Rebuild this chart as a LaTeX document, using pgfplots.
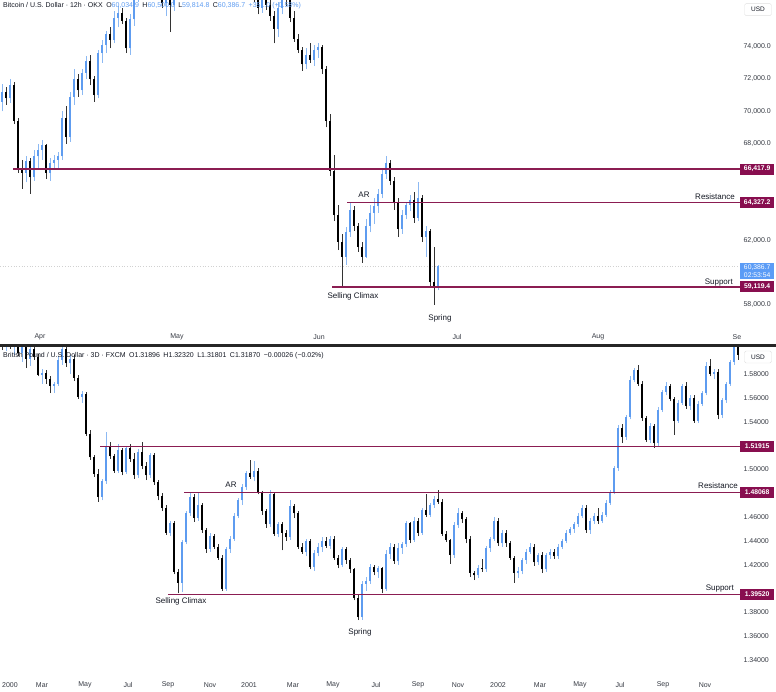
\documentclass[border=0pt]{standalone}
\usepackage{pgfplots}
\pgfplotsset{compat=1.18}
\usepackage{pgfplotstable}
\usepackage{fontspec}
\setmainfont{Liberation Sans}
\definecolor{upc}{HTML}{5E9CF0}
\definecolor{upw}{HTML}{8CB9F3}
\definecolor{dnc}{HTML}{000000}
\definecolor{dnw}{HTML}{333333}
\definecolor{lvl}{HTML}{8B1D52}
\definecolor{tagc}{HTML}{880E4F}
\definecolor{txt}{HTML}{131722}
\definecolor{curc}{HTML}{5B9CF6}

\pgfplotstableread{
x o h l c
2 70600 71700 70000 71200
6 71200 71500 70400 70800
10 70800 72000 70500 71600
14 71600 71800 69200 69400
18 69400 69600 66200 66500
22 66500 67000 65200 66200
26 66200 67200 65600 66900
30 66900 67100 64900 65900
34 65900 67600 65700 67200
38 67200 68000 66500 67600
42 67600 68200 67000 67900
46 67900 68000 65800 66200
50 66200 67100 65700 66800
54 66800 67300 66400 67000
58 67000 67500 66500 67200
62 67200 70000 67000 69600
66 69600 70300 68000 68400
70 68400 71200 68100 70900
74 70900 72600 70400 72000
78 72000 72300 70900 71300
82 71300 72600 71000 72400
86 72400 73400 72000 73100
90 73100 73500 71600 72000
94 72000 72200 70600 71000
98 71000 73800 70800 73600
102 73600 74400 73000 74100
106 74100 75000 73600 74800
110 74800 75200 73900 74400
114 74400 76200 74200 75800
118 75800 76500 75200 76100
122 76100 76400 75400 75600
126 75600 75800 73600 73900
130 73900 76000 73500 75700
134 75700 77500 75300 77200
138 77200 78500 76800 78100
142 78100 79000 77600 78600
146 78600 79500 78000 79200
150 79200 79600 78300 78500
154 78500 79000 77800 78000
158 78000 78400 77100 77400
162 77400 77600 76400 76700
166 76700 77300 75900 77000
170 77000 77500 74900 76600
174 76600 77800 76200 77500
178 77500 78600 77200 78300
182 78300 79400 78000 79000
186 79000 80200 78700 79900
190 79900 80500 79100 79400
194 79400 80800 79200 80500
198 80500 81200 79800 80100
202 80100 80600 79000 79300
206 79300 80000 78600 79700
210 79700 80900 79500 80600
214 80600 81500 80200 81100
218 81100 81400 80000 80300
222 80300 80700 79400 79800
226 79800 80400 79200 80100
230 80100 80500 78900 79200
234 79200 79800 78400 78700
238 78700 79500 78300 79300
242 79300 79900 78600 78900
246 78900 79200 77800 78100
250 78100 78600 77400 77700
254 77700 78200 76800 77000
258 77000 77400 76000 76400
262 76400 77300 76100 77000
266 77000 77600 76300 76600
270 76600 77000 75600 75900
274 75900 76200 74200 75100
278 75100 76800 74600 76400
282 76400 77500 76000 77200
286 77200 77600 76500 76900
290 76900 77300 75500 75800
294 75800 76200 74300 74500
298 74500 74800 73600 73800
302 73800 74000 72500 72900
306 72900 73900 72600 73500
310 73500 74200 73000 73200
314 73200 74100 72800 73800
318 73800 74200 73300 74000
322 74000 74100 72300 72600
326 72600 72800 69000 69400
330 69400 69800 66000 66300
334 66300 67300 63200 63600
338 63600 64200 61400 61900
342 61900 62400 59100 61000
346 61000 62800 60500 62500
350 62500 64300 62200 63900
354 63900 64100 62600 62900
358 62900 63100 61300 61600
362 61600 61900 60600 61000
366 61000 63300 60900 62900
370 62900 64200 62500 63700
374 63700 64600 63000 64100
378 64100 65200 63700 64900
382 64900 66400 64600 66100
386 66100 67200 65800 66800
390 66800 67000 65400 65700
394 65700 65900 63900 64300
398 64300 64600 62200 62700
402 62700 63900 62400 63600
406 63600 64400 63300 64200
410 64200 64800 63800 64500
414 64500 65000 63100 63400
418 63400 65600 63200 64600
422 64600 64800 61900 62200
426 62200 62900 61000 62600
430 62600 62700 59100 59400
434 59400 61600 58000 59200
438 59200 60500 58900 60386.7
}\btc

\pgfplotstableread{
x o h l c
2 1.6080 1.6150 1.6000 1.6050
6 1.6050 1.6120 1.5990 1.6090
10 1.6090 1.6130 1.6010 1.6030
14 1.6030 1.6100 1.5960 1.6070
18 1.6070 1.6110 1.5950 1.5980
22 1.5980 1.6060 1.5900 1.6040
26 1.6040 1.6080 1.5850 1.5930
30 1.5930 1.6070 1.5870 1.6010
34 1.6010 1.6060 1.5920 1.5940
38 1.5940 1.5970 1.5780 1.5795
42 1.5795 1.5840 1.5720 1.5810
46 1.5810 1.5830 1.5720 1.5760
50 1.5760 1.5780 1.5640 1.5700
54 1.5700 1.5730 1.5640 1.5720
58 1.5720 1.5950 1.5700 1.5920
62 1.5920 1.6060 1.5880 1.6010
66 1.6010 1.6050 1.5860 1.5890
70 1.5890 1.5960 1.5800 1.5930
74 1.5930 1.5960 1.5740 1.5770
78 1.5770 1.5790 1.5590 1.5610
82 1.5610 1.5660 1.5560 1.5630
86 1.5630 1.5650 1.5280 1.5300
90 1.5300 1.5330 1.5080 1.5100
94 1.5100 1.5120 1.4940 1.4960
98 1.4960 1.5000 1.4730 1.4770
102 1.4770 1.4920 1.4740 1.4900
106 1.4900 1.5310 1.4880 1.5200
110 1.5200 1.5230 1.5090 1.5110
114 1.5110 1.5130 1.4970 1.4990
118 1.4990 1.5210 1.4970 1.5160
122 1.5160 1.5180 1.4950 1.4980
126 1.4980 1.5200 1.4960 1.5180
130 1.5180 1.5210 1.5060 1.5090
134 1.5090 1.5140 1.4920 1.4950
138 1.4950 1.5170 1.4930 1.5150
142 1.5150 1.5230 1.5000 1.5030
146 1.5030 1.5060 1.4910 1.4950
150 1.4950 1.5140 1.4930 1.5120
154 1.5120 1.5140 1.4870 1.4890
158 1.4890 1.4910 1.4740 1.4780
162 1.4780 1.4800 1.4650 1.4680
166 1.4680 1.4700 1.4450 1.4470
170 1.4470 1.4570 1.4440 1.4550
174 1.4550 1.4570 1.4120 1.4140
178 1.4140 1.4160 1.3960 1.4050
182 1.4050 1.4410 1.3970 1.4390
186 1.4390 1.4650 1.4370 1.4630
190 1.4630 1.4810 1.4610 1.4770
194 1.4770 1.4790 1.4560 1.4590
198 1.4590 1.4810 1.4570 1.4700
202 1.4700 1.4720 1.4470 1.4490
206 1.4490 1.4510 1.4300 1.4330
210 1.4330 1.4470 1.4310 1.4440
214 1.4440 1.4460 1.4330 1.4350
218 1.4350 1.4370 1.4240 1.4260
222 1.4260 1.4280 1.3980 1.4000
226 1.4000 1.4350 1.3980 1.4330
230 1.4330 1.4440 1.4300 1.4420
234 1.4420 1.4630 1.4400 1.4610
238 1.4610 1.4760 1.4590 1.4740
242 1.4740 1.4880 1.4700 1.4850
246 1.4850 1.4990 1.4830 1.4970
250 1.4970 1.5080 1.4920 1.4940
254 1.4940 1.5070 1.4900 1.4990
258 1.4990 1.5010 1.4790 1.4810
262 1.4810 1.4820 1.4620 1.4650
266 1.4650 1.4670 1.4510 1.4540
270 1.4540 1.4830 1.4520 1.4790
274 1.4790 1.4800 1.4440 1.4460
278 1.4460 1.4560 1.4430 1.4540
282 1.4540 1.4560 1.4320 1.4470
286 1.4470 1.4490 1.4400 1.4430
290 1.4430 1.4740 1.4410 1.4690
294 1.4690 1.4710 1.4590 1.4630
298 1.4630 1.4650 1.4330 1.4350
302 1.4350 1.4380 1.4290 1.4310
306 1.4310 1.4420 1.4270 1.4400
310 1.4400 1.4420 1.4160 1.4180
314 1.4180 1.4320 1.4150 1.4300
318 1.4300 1.4380 1.4270 1.4350
322 1.4350 1.4430 1.4310 1.4400
326 1.4400 1.4430 1.4340 1.4360
330 1.4360 1.4440 1.4330 1.4420
334 1.4420 1.4440 1.4240 1.4260
338 1.4260 1.4280 1.4170 1.4200
342 1.4200 1.4350 1.4180 1.4330
346 1.4330 1.4350 1.4210 1.4240
350 1.4240 1.4260 1.4130 1.4160
354 1.4160 1.4170 1.3900 1.3920
358 1.3920 1.3950 1.3736 1.3760
362 1.3760 1.4060 1.3740 1.4040
366 1.4040 1.4100 1.3980 1.4060
370 1.4060 1.4210 1.4040 1.4180
374 1.4180 1.4200 1.4110 1.4140
378 1.4140 1.4190 1.4090 1.4170
382 1.4170 1.4180 1.3960 1.4000
386 1.4000 1.4320 1.3980 1.4290
390 1.4290 1.4380 1.4250 1.4350
394 1.4350 1.4370 1.4210 1.4230
398 1.4230 1.4380 1.4200 1.4340
402 1.4340 1.4390 1.4290 1.4370
406 1.4370 1.4570 1.4350 1.4550
410 1.4550 1.4560 1.4380 1.4410
414 1.4410 1.4600 1.4390 1.4570
418 1.4570 1.4590 1.4440 1.4470
422 1.4470 1.4680 1.4450 1.4660
426 1.4660 1.4790 1.4600 1.4620
430 1.4620 1.4720 1.4600 1.4700
434 1.4700 1.4780 1.4680 1.4750
438 1.4750 1.4830 1.4710 1.4730
442 1.4730 1.4750 1.4440 1.4460
446 1.4460 1.4480 1.4390 1.4410
450 1.4410 1.4420 1.4210 1.4280
454 1.4280 1.4560 1.4260 1.4530
458 1.4530 1.4680 1.4510 1.4630
462 1.4630 1.4650 1.4550 1.4580
466 1.4580 1.4600 1.4380 1.4420
470 1.4420 1.4440 1.4100 1.4130
474 1.4130 1.4150 1.4070 1.4110
478 1.4110 1.4200 1.4090 1.4170
482 1.4170 1.4250 1.4140 1.4160
486 1.4160 1.4360 1.4140 1.4340
490 1.4340 1.4430 1.4310 1.4420
494 1.4420 1.4600 1.4400 1.4570
498 1.4570 1.4590 1.4360 1.4380
502 1.4380 1.4490 1.4350 1.4470
506 1.4470 1.4490 1.4350 1.4380
510 1.4380 1.4400 1.4240 1.4260
514 1.4260 1.4270 1.4050 1.4130
518 1.4130 1.4180 1.4090 1.4150
522 1.4150 1.4260 1.4120 1.4240
526 1.4240 1.4330 1.4210 1.4310
530 1.4310 1.4380 1.4290 1.4350
534 1.4350 1.4370 1.4190 1.4220
538 1.4220 1.4300 1.4200 1.4280
542 1.4280 1.4310 1.4130 1.4160
546 1.4160 1.4300 1.4140 1.4280
550 1.4280 1.4330 1.4250 1.4310
554 1.4310 1.4330 1.4250 1.4270
558 1.4270 1.4370 1.4250 1.4350
562 1.4350 1.4420 1.4330 1.4400
566 1.4400 1.4490 1.4380 1.4470
570 1.4470 1.4520 1.4450 1.4500
574 1.4500 1.4560 1.4470 1.4540
578 1.4540 1.4630 1.4520 1.4610
582 1.4610 1.4700 1.4590 1.4680
586 1.4680 1.4700 1.4470 1.4490
590 1.4490 1.4590 1.4460 1.4570
594 1.4570 1.4630 1.4540 1.4610
598 1.4610 1.4680 1.4540 1.4570
602 1.4570 1.4640 1.4550 1.4620
606 1.4620 1.4740 1.4600 1.4720
610 1.4720 1.4830 1.4700 1.4810
614 1.4810 1.5030 1.4790 1.5010
618 1.5010 1.5370 1.4990 1.5350
622 1.5350 1.5380 1.5220 1.5270
626 1.5270 1.5460 1.5250 1.5440
630 1.5440 1.5780 1.5420 1.5750
634 1.5750 1.5850 1.5730 1.5830
638 1.5830 1.5880 1.5700 1.5720
642 1.5720 1.5740 1.5410 1.5430
646 1.5430 1.5450 1.5230 1.5250
650 1.5250 1.5390 1.5220 1.5360
654 1.5360 1.5380 1.5180 1.5220
658 1.5220 1.5520 1.5200 1.5500
662 1.5500 1.5670 1.5480 1.5650
666 1.5650 1.5730 1.5620 1.5700
670 1.5700 1.5720 1.5570 1.5590
674 1.5590 1.5610 1.5290 1.5410
678 1.5410 1.5580 1.5390 1.5560
682 1.5560 1.5720 1.5540 1.5700
686 1.5700 1.5730 1.5510 1.5530
690 1.5530 1.5620 1.5500 1.5600
694 1.5600 1.5620 1.5390 1.5410
698 1.5410 1.5570 1.5390 1.5550
702 1.5550 1.5660 1.5530 1.5640
706 1.5640 1.5900 1.5620 1.5870
710 1.5870 1.5930 1.5780 1.5800
714 1.5800 1.5840 1.5760 1.5820
718 1.5820 1.5840 1.5420 1.5460
722 1.5460 1.5600 1.5430 1.5580
726 1.5580 1.5730 1.5560 1.5720
730 1.5720 1.5920 1.5700 1.5900
734 1.5900 1.6100 1.5880 1.6040
738 1.6040 1.6080 1.5920 1.5960
}\gbp

\pgfplotsset{
  tv/.style={scale only axis, width=740pt, xmin=0, xmax=740,
    anchor=north west, clip mode=individual,
    axis line style={draw=none}, tick style={draw=none}, major tick length=0pt,
    yticklabel pos=right,
    ticklabel style={font=\fontsize{7}{8}\selectfont, text=txt!85},
    xticklabel style={anchor=center, yshift=-9pt},
    yticklabel style={anchor=west}},
  isup/.style={restrict expr to domain={\thisrow{c}-\thisrow{o}}{0:1000000}},
  isdn/.style={restrict expr to domain={\thisrow{c}-\thisrow{o}}{-1000000:-0.00000001}},
  wick/.style={draw=none, mark=none, mark size=0pt, mark options={draw=none, fill=none}, forget plot,
    error bars/.cd, y dir=plus, y explicit, error mark=none,
    error bar style={draw=#1, line width=0.75pt}},
  body/.style={draw=none, mark=none, mark size=0pt, mark options={draw=none, fill=none}, forget plot,
    error bars/.cd, y dir=plus, y explicit, error mark=none,
    error bar style={draw=#1, line width=2.6pt}}
}
\tikzset{
  ann/.style={font=\fontsize{8}{9}\selectfont, text=txt, inner sep=0pt},
  tag/.style={anchor=west, fill=tagc, text=white, font=\bfseries\fontsize{6.8}{7}\selectfont,
    minimum width=34pt, minimum height=11pt, inner sep=1pt},
  usd/.style={draw=black!12, fill=white, text=txt, font=\fontsize{6.5}{7}\selectfont,
    minimum width=27pt, minimum height=12pt, inner sep=1pt, rounded corners=1.5pt},
  hdr/.style={anchor=west, font=\fontsize{7}{8}\selectfont, text=txt, inner sep=0pt}
}

\begin{document}
\begin{tikzpicture}
\useasboundingbox (0pt,0pt) rectangle (776pt,-691pt);

% ---------------- top panel: BTC 12h ----------------
\begin{axis}[tv, at={(0pt,0pt)}, height=328pt,
  ymin=56570, ymax=76893,
  xtick={40,177,319,457,598,737}, xticklabels={Apr,May,Jun,Jul,Aug,Se},
  ytick={58000,62000,68000,70000,72000,74000},
  yticklabels={{58,000.0},{62,000.0},{68,000.0},{70,000.0},{72,000.0},{74,000.0}}]
\addplot[black!18, dotted, line width=0.7pt, forget plot] coordinates {(0,60386.7) (740,60386.7)};
\addplot[isup, wick=upw] table[x=x, y=l, y error plus expr={\thisrow{h}-\thisrow{l}}] {\btc};
\addplot[isdn, wick=dnw] table[x=x, y=l, y error plus expr={\thisrow{h}-\thisrow{l}}] {\btc};
\addplot[isup, body=upc] table[x=x, y expr={min(\thisrow{o},\thisrow{c})}, y error plus expr={abs(\thisrow{c}-\thisrow{o})}] {\btc};
\addplot[isdn, body=dnc] table[x=x, y expr={min(\thisrow{o},\thisrow{c})}, y error plus expr={abs(\thisrow{c}-\thisrow{o})}] {\btc};
\addplot[lvl, line width=1.3pt, forget plot] coordinates {(13,66417.9) (740,66417.9)};
\addplot[lvl, line width=1.3pt, forget plot] coordinates {(347,64327.2) (740,64327.2)};
\addplot[lvl, line width=1.3pt, forget plot] coordinates {(332,59119.4) (740,59119.4)};
\node[ann] at (axis cs:364,64811) {AR};
\node[ann, anchor=base east] at (axis cs:735,64520) {Resistance};
\node[ann, anchor=base east] at (axis cs:733,59250) {Support};
\node[ann] at (axis cs:353,58553) {Selling Climax};
\node[ann] at (axis cs:440,57190) {Spring};
\node[tag] at (axis cs:740,66417.9) {66,417.9};
\node[tag] at (axis cs:740,64327.2) {64,327.2};
\node[tag] at (axis cs:740,59119.4) {59,119.4};
\node[anchor=west, fill=curc, text=white, font=\fontsize{6.8}{7.6}\selectfont, align=center,
  minimum width=34pt, inner sep=1.5pt] at (axis cs:740,60100) {60,386.7\\02:53:54};
\node[usd] at (axis cs:758,76300) {USD};
\node[hdr] at (axis cs:3,76521) {Bitcoin / U.S. Dollar · 12h · OKX\enspace
  O{\color{upc}60,034.9}\enspace H{\color{upc}60,500.0}\enspace L{\color{upc}59,814.8}\enspace
  C{\color{upc}60,386.7}\enspace {\color{upc}+351.0 (+0.58\%)}};
\end{axis}

% ---------------- bottom panel: GBPUSD 3D ----------------
\begin{axis}[tv, at={(0pt,-347pt)}, height=329pt,
  ymin=1.32661, ymax=1.60269,
  xtick={10,42,85,128,168,210,249,293,333,376,418,458,498,540,580,620,663,705},
  xticklabels={2000,Mar,May,Jul,Sep,Nov,2001,Mar,May,Jul,Sep,Nov,2002,Mar,May,Jul,Sep,Nov},
  ytick={1.34,1.36,1.38,1.42,1.44,1.46,1.50,1.54,1.56,1.58},
  yticklabels={1.34000,1.36000,1.38000,1.42000,1.44000,1.46000,1.50000,1.54000,1.56000,1.58000}]
\addplot[isup, wick=upw] table[x=x, y=l, y error plus expr={\thisrow{h}-\thisrow{l}}] {\gbp};
\addplot[isdn, wick=dnw] table[x=x, y=l, y error plus expr={\thisrow{h}-\thisrow{l}}] {\gbp};
\addplot[isup, body=upc] table[x=x, y expr={min(\thisrow{o},\thisrow{c})}, y error plus expr={abs(\thisrow{c}-\thisrow{o})}] {\gbp};
\addplot[isdn, body=dnc] table[x=x, y expr={min(\thisrow{o},\thisrow{c})}, y error plus expr={abs(\thisrow{c}-\thisrow{o})}] {\gbp};
\addplot[lvl, line width=1.3pt, forget plot] coordinates {(100,1.51915) (740,1.51915)};
\addplot[lvl, line width=1.3pt, forget plot] coordinates {(184,1.48068) (740,1.48068)};
\addplot[lvl, line width=1.3pt, forget plot] coordinates {(168,1.39520) (740,1.39520)};
\node[ann] at (axis cs:231,1.48689) {AR};
\node[ann, anchor=base east] at (axis cs:738,1.48437) {Resistance};
\node[ann, anchor=base east] at (axis cs:734,1.39878) {Support};
\node[ann] at (axis cs:181,1.38955) {Selling Climax};
\node[ann] at (axis cs:360,1.36354) {Spring};
\node[tag] at (axis cs:740,1.51915) {1.51915};
\node[tag] at (axis cs:740,1.48068) {1.48068};
\node[tag] at (axis cs:740,1.39520) {1.39520};
\node[usd] at (axis cs:758,1.59430) {USD};
\node[hdr] at (axis cs:3,1.59514) {British Pound / U.S. Dollar · 3D · FXCM\enspace
  O1.31896\enspace H1.32320\enspace L1.31801\enspace C1.31870\enspace −0.00026 (−0.02\%)};
\end{axis}

\draw[line width=3pt, black!85] (0pt,-345pt) -- (776pt,-345pt);
\end{tikzpicture}
\end{document}
